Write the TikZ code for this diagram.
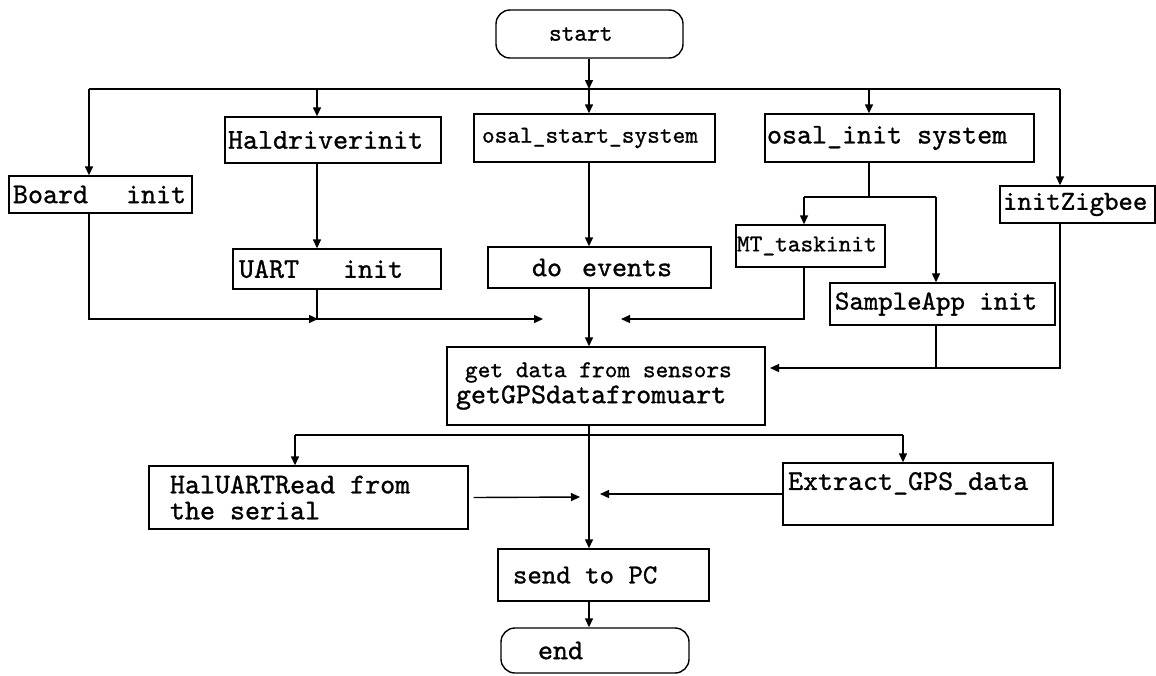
\documentclass[tikz,border=0pt]{standalone}
\usepackage{fontspec}
\usetikzlibrary{arrows.meta}
\newfontfamily\flowfont{lmmono10-regular.otf}[FakeBold=1]
\newcommand\ttbig{\flowfont\fontsize{28.6}{26}\selectfont}
\newcommand\ttmid{\flowfont\fontsize{27.5}{26}\selectfont}
\newcommand\ttsml{\flowfont\fontsize{24.2}{26}\selectfont}
\newcommand\sk{\hspace{0.525em}}
\begin{document}
\begin{tikzpicture}[x=1pt,y=-1pt,>={Triangle[length=9pt,width=8pt]},
        line width=1.4pt,
        box/.style={draw,rectangle,align=left,inner ysep=0pt,font=\ttbig},
        term/.style={box,rounded corners=14pt}]
\useasboundingbox (0,0) rectangle (1156,675);
% nodes
\node[term, minimum height=48, inner xsep=53, text width=81, font=\ttsml] (start) at (589.5,34) {start};
\node[box, minimum height=37, inner xsep=4, text width=175] (board) at (100.5,194.5) {Board\hspace{38pt}init};
\node[box, minimum height=46, inner xsep=3, text width=210] (hal) at (333,140) {Haldriverinit};
\node[box, minimum height=48, inner xsep=8, text width=225, font=\ttsml] (ostart) at (594.5,138) {osal\_start\_system};
\node[box, minimum height=48, inner xsep=2, text width=265] (oinit) at (899.5,138) {osal\_init\sk system};
\node[box, minimum height=37, inner xsep=3, text width=149, font=\ttmid] (zigbee) at (1077.5,204.5) {initZigbee};
\node[box, minimum height=40, inner xsep=6, text width=196] (uart) at (337,269) {UART\hspace{44pt}init};
\node[box, minimum height=41, inner xsep=44, text width=135] (doev) at (599.5,267.5) {\mbox{do\hspace{20pt}events}};
\node[box, minimum height=42, inner xsep=1, text width=147, font=\ttsml] (mt) at (810.5,246) {MT\_taskinit};
\node[box, minimum height=42, inner xsep=5, text width=215, font=\ttmid] (sample) at (942.5,304) {SampleApp\sk init};
\node[box, minimum height=78, inner xsep=9, text width=300] (getdata) at (606,386) {{\ttsml\hspace*{9pt}get\sk data\sk from\sk sensors}\\getGPSdatafromuart};
\node[box, minimum height=63, inner xsep=21, text width=277] (halread) at (308.5,497.5) {HalUARTRead\sk from\\the\sk serial};
\node[box, minimum height=62, inner xsep=5, text width=260] (extract) at (918,494) {Extract\_GPS\_data\\\mbox{}};
\node[box, minimum height=52, inner xsep=15, text width=181, font=\ttmid] (send) at (603.5,575) {send\sk to\sk PC};
\node[term, minimum height=45, inner xsep=37, text width=114] (endn) at (595,650.5) {end};
% junctions
\coordinate (bL) at (89,89);
\coordinate (bR) at (1060,89);
\coordinate (d2) at (317,89);
\coordinate (d4) at (869,89);
\coordinate (c) at (589,89);
\coordinate (s1) at (869,197);
\coordinate (s1l) at (804,197);
\coordinate (s1r) at (936,197);
\coordinate (m1) at (318,319);
\coordinate (m2) at (543,319);
\coordinate (m3) at (621,319);
\coordinate (m4) at (770,368);
\coordinate (l1) at (295,435);
\coordinate (l2) at (903,435);
\coordinate (h1) at (580,497);
\coordinate (h2) at (600,494);
% upper part
\draw[->] (c |- start.south) -- (c);
\draw (bL) -- (bR);
\draw[->] (bL) -- (bL |- board.north);
\draw[->] (d2) -- (d2 |- hal.north);
\draw[->] (c) -- (c |- ostart.north);
\draw[->] (d4) -- (d4 |- oinit.north);
\draw[->] (bR) -- (bR |- zigbee.north);
\draw[->] (d2 |- hal.south) -- (d2 |- uart.north);
\draw[->] (c |- ostart.south) -- (c |- doev.north);
\draw (d4 |- oinit.south) -- (s1);
\draw (s1l) -- (s1r);
\draw[->] (s1l) -- (s1l |- mt.north);
\draw[->] (s1r) -- (s1r |- sample.north);
% merging into getdata
\draw[->] (bL |- board.south) |- (m1);
\draw[->] (d2 |- uart.south) |- (m2);
\draw[->] (s1l |- mt.south) |- (m3);
\draw[->] (bR |- zigbee.south) |- (m4);
\draw (s1r |- sample.south) -- (s1r |- m4);
\draw[->] (c |- doev.south) -- (c |- getdata.north);
% lower part
\draw[->] (c |- getdata.south) -- (c |- send.north);
\draw (l1) -- (l2);
\draw[->] (l1) -- (l1 |- halread.north);
\draw[->] (l2) -- (l2 |- extract.north);
\draw[->] ([xshift=5pt]halread.east) -- (h1);
\draw[->] (extract.west) -- (h2);
\draw[->] (c |- send.south) -- (c |- endn.north);
\end{tikzpicture}
\end{document}
